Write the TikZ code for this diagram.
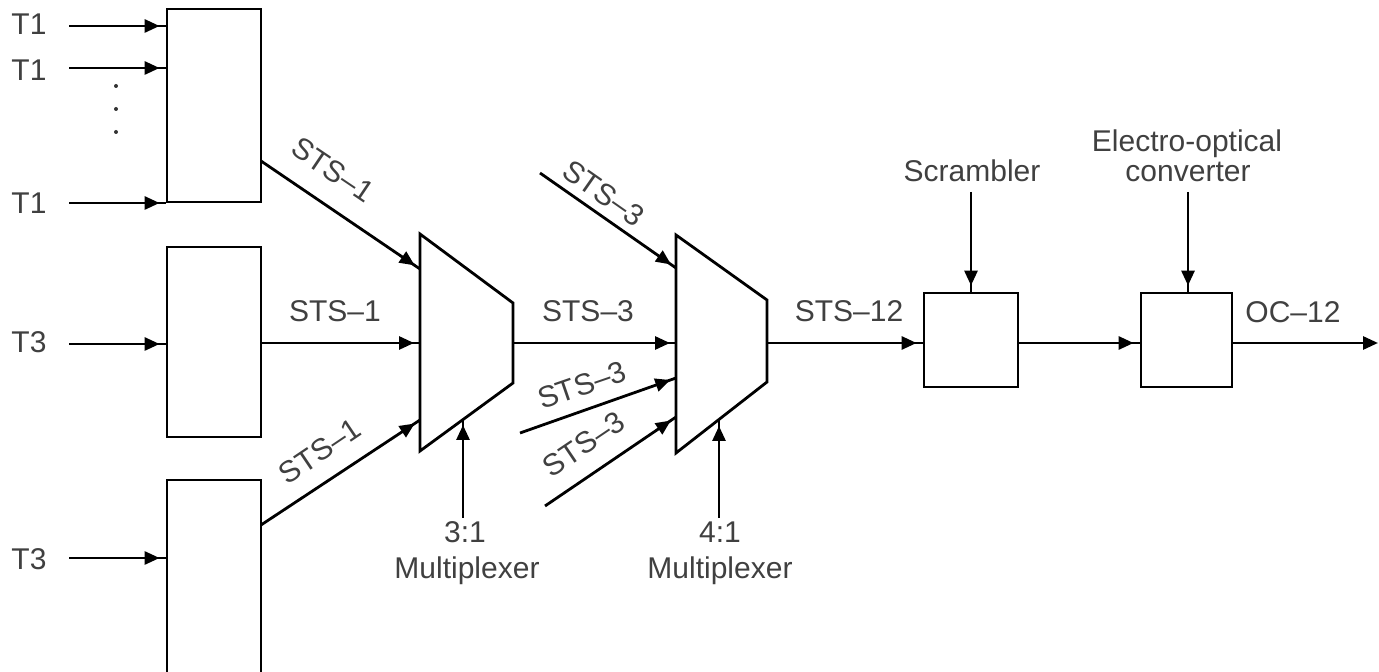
\documentclass[tikz,border=0pt]{standalone}
\usepackage{fontspec}
\setmainfont{Liberation Sans}
\usetikzlibrary{arrows.meta,decorations.markings}
\begin{document}
\begin{tikzpicture}[x=0.5pt,y=-0.5pt,
  ln/.style={line width=1.4pt},
  arr/.style={ln, postaction={decorate}, decoration={markings, mark=at position -3pt with {\arrow{Triangle[length=7.5pt,width=6.5pt]}}}},
  endarr/.style={ln, -{Triangle[length=7.5pt,width=6.5pt]}},
  box/.style={draw, line width=1.4pt, inner sep=0pt},
  lbl/.style={text=black!75, font=\fontsize{15pt}{18pt}\selectfont, inner sep=0pt},
  muxshape/.style={ln, line join=miter},
  dotmark/.style={fill=black!80, draw=none}
]
\useasboundingbox (0,0) rectangle (1379,672);
\clip (0,0) rectangle (1379,672);

% boxes
\node[box, minimum width=47pt, minimum height=96.5pt] (b1) at (214,105.5) {};
\node[box, minimum width=47pt, minimum height=95pt] (b2) at (214,342) {};
\node[box, minimum width=47pt, minimum height=120pt] (b3) at (214,600) {};
\node[box, minimum width=47pt, minimum height=47pt] (scr) at (971,340) {};
\node[box, minimum width=45.5pt, minimum height=47pt] (eo) at (1186.5,340) {};

% multiplexers
\coordinate (m1a) at (420,234); \coordinate (m1b) at (513,303);
\coordinate (m1c) at (513,383); \coordinate (m1d) at (420,451);
\draw[muxshape] (m1a) -- (m1b) -- (m1c) -- (m1d) -- cycle;
\coordinate (m2a) at (676,235); \coordinate (m2b) at (767,300);
\coordinate (m2c) at (767,382); \coordinate (m2d) at (676,453);
\draw[muxshape] (m2a) -- (m2b) -- (m2c) -- (m2d) -- cycle;

% input labels
\node[lbl] (t1a) at (29,24) {T1};
\node[lbl] (t1b) at (29,70) {T1};
\node[lbl] (t1c) at (29,203) {T1};
\node[lbl] (t3a) at (29,342) {T3};
\node[lbl] (t3b) at (29,559) {T3};
\fill[dotmark] (116,86) circle (2);
\fill[dotmark] (116,109) circle (2);
\fill[dotmark] (116,132) circle (2);

% input lines
\coordinate (s1) at (69,26);  \draw[arr] (s1) -- (b1.west |- s1);
\coordinate (s2) at (69,68);  \draw[arr] (s2) -- (b1.west |- s2);
\coordinate (s3) at (69,203); \draw[arr] (s3) -- (b1.west |- s3);
\coordinate (s4) at (69,344); \draw[arr] (s4) -- (b2.west |- s4);
\coordinate (s5) at (69,558); \draw[arr] (s5) -- (b3.west |- s5);

% STS-1 into mux 1
\coordinate (b1o) at (261,161); \coordinate (m1i1) at (420,269);
\draw[arr] (b1o) -- (m1i1);
\coordinate (m1i2) at (420,343);
\draw[arr] (b2.east |- m1i2) -- (m1i2);
\coordinate (b3o) at (261,525); \coordinate (m1i3) at (420,420);
\draw[arr] (b3o) -- (m1i3);
\node[lbl, rotate=-34] (l11) at (333,170) {STS--1};
\node[lbl] (l12) at (335,311) {STS--1};
\node[lbl, rotate=34] (l13) at (320,451) {STS--1};

% mux 1 -> mux 2 and other STS-3
\coordinate (m1o) at (513,343); \coordinate (m2i2) at (676,343);
\draw[arr] (m1o) -- (m2i2);
\node[lbl] (l22) at (588,311) {STS--3};
\coordinate (u1) at (540,173); \coordinate (m2i1) at (676,268);
\draw[arr] (u1) -- (m2i1);
\node[lbl, rotate=-35] (l21) at (604,193) {STS--3};
\coordinate (u3) at (520,433); \coordinate (m2i3) at (676,378);
\draw[arr] (u3) -- (m2i3);
\node[lbl, rotate=19] (l23) at (582,385) {STS--3};
\coordinate (u4) at (545,506); \coordinate (m2i4) at (676,417);
\draw[arr] (u4) -- (m2i4);
\node[lbl, rotate=34] (l24) at (584,444) {STS--3};

% mux controls
\coordinate (c1) at (463,518); \coordinate (c1t) at (463,419);
\draw[arr] (c1) -- (c1t);
\node[lbl] (n31) at (465,532) {3:1};
\node[lbl, anchor=base] (n31m) at (467,578) {Multiplexer};
\coordinate (c2) at (719,518); \coordinate (c2t) at (719,420);
\draw[arr] (c2) -- (c2t);
\node[lbl] (n41) at (720,532) {4:1};
\node[lbl, anchor=base] (n41m) at (720,578) {Multiplexer};

% to scrambler and converter
\coordinate (m2o) at (767,343);
\draw[arr] (m2o) -- (scr.west |- m2o);
\node[lbl] (l3) at (849,311) {STS--12};
\draw[arr] (scr.east |- m2o) -- (eo.west |- m2o);
\coordinate (outend) at (1378,343);
\draw[endarr] (eo.east |- m2o) -- (outend);
\node[lbl] (l4) at (1293,312) {OC--12};

\node[lbl, anchor=base] (scrl) at (972,182) {Scrambler};
\coordinate (sc) at (971,192);
\draw[arr] (sc) -- (scr.north);
\node[lbl, anchor=base] (eol1) at (1187,152) {Electro-optical};
\node[lbl, anchor=base] (eol2) at (1188,182) {converter};
\coordinate (ec) at (1188,192);
\draw[arr] (ec) -- (eo.north -| ec);
\end{tikzpicture}
\end{document}
